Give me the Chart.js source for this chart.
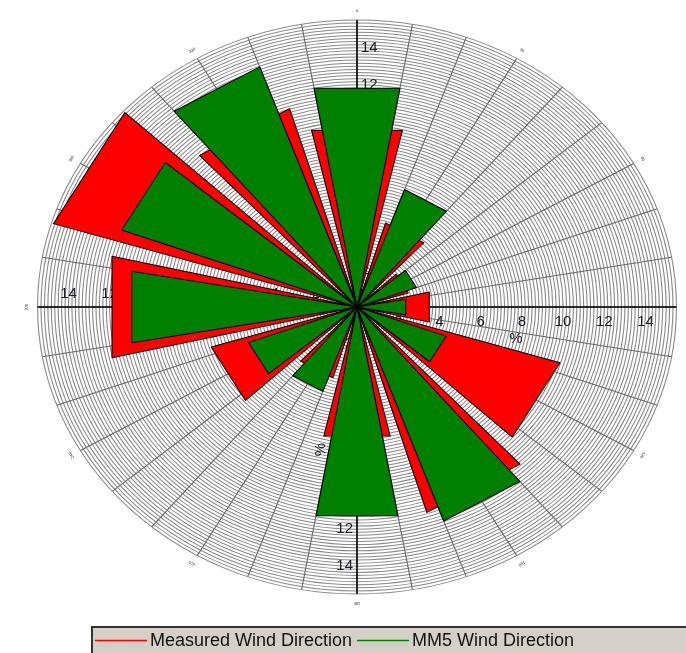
<!DOCTYPE html>
<html>
<head>
<meta charset="utf-8">
<title>Wind Direction</title>
<script src="https://cdn.jsdelivr.net/npm/chart.js@4.4.1/dist/chart.umd.min.js"></script>
<style>
  html, body { margin: 0; padding: 0; background: #fff; }
  #wrap { position: relative; width: 686px; height: 653px; }
</style>
</head>
<body>
<div id="wrap"><canvas id="roseChart" width="686" height="653"></canvas></div>
<script>
// sector directions (degrees clockwise from north) and frequency in %
const directions = [0, 30, 60, 90, 120, 150, 180, 210, 240, 270, 300, 330];
const measured = [9.8, 4.75, 2.6, 3.6, 10.3, 11.6, 7.15, 4.0, 7.4, 12.2, 15.4, 11.2];
const mm5 = [12.0, 6.75, 3.07, 2.4, 4.6, 12.3, 11.45, 4.85, 5.6, 11.1, 12.15, 13.8];
const ringLabels = [2, 4, 6, 8, 10, 12, 14];
const compassLabels = ['0', '30', '60', '90', '120', '150', '180', '210', '240', '270', '300', '330'];
const seriesNames = ['Measured Wind Direction', 'MM5 Wind Direction'];

// one spoke per degree; the rose is drawn as a radar whose sectors are triangles
const spokes = Array.from({ length: 360 }, (_, i) => i);

function sectorData(values, halfWidth) {
    const out = new Array(360).fill(0);
    directions.forEach((dir, k) => {
        for (let a = -halfWidth + 1; a < halfWidth; a++) {
            out[(dir + a + 360) % 360] = null;   // skipped so the outer edge is straight
        }
        out[(dir - halfWidth + 360) % 360] = values[k];
        out[(dir + halfWidth) % 360] = values[k];
    });
    return out;
}

const SX = 320 / 287.5;   // horizontal stretch of the plot
const FONT = '"Liberation Sans", Arial, sans-serif';

const roseDecor = {
    id: 'roseDecor',
    beforeDraw(chart) {
        const s = chart.scales.r;
        const ctx = chart.ctx;
        ctx.save();
        ctx.translate(s.xCenter, 0);
        ctx.scale(SX, 1);
        ctx.translate(-s.xCenter, 0);
    },
    beforeDatasetsDraw(chart) {
        const s = chart.scales.r;
        const ctx = chart.ctx;
        const cx = s.xCenter, cy = s.yCenter;
        const R = s.drawingArea;
        ctx.save();
        ctx.setTransform(1, 0, 0, 1, 0, 0);

        // axis cross
        ctx.strokeStyle = '#000';
        ctx.lineWidth = 1.5;
        ctx.beginPath();
        ctx.moveTo(cx - R * SX, cy); ctx.lineTo(cx + R * SX, cy);
        ctx.moveTo(cx, cy - R); ctx.lineTo(cx, cy + R);
        ctx.stroke();

        // ring values along the four axes
        ctx.fillStyle = '#1c1c2c';
        ctx.font = '15px ' + FONT;
        ctx.textBaseline = 'middle';
        ringLabels.forEach(v => {
            const d = s.getDistanceFromCenterForValue(v);
            ctx.textAlign = 'center';
            ctx.fillText(String(v), cx + d * SX, cy + 15);
            ctx.fillText(String(v), cx - d * SX, cy - 13);
            ctx.textAlign = 'left';
            ctx.fillText(String(v), cx + 4, cy - d);
            ctx.textAlign = 'right';
            ctx.fillText(String(v), cx - 4, cy + d);
        });

        // unit labels
        const unitR = s.getDistanceFromCenterForValue(7.9);
        const a1 = 102.4 * Math.PI / 180;
        ctx.textAlign = 'center';
        ctx.fillText('%', cx + Math.sin(a1) * unitR * SX, cy - Math.cos(a1) * unitR);
        const a2 = 193 * Math.PI / 180;
        ctx.save();
        ctx.translate(cx + Math.sin(a2) * unitR * SX, cy - Math.cos(a2) * unitR);
        ctx.rotate(-Math.PI / 2);
        ctx.fillText('%', 0, 0);
        ctx.restore();

        // compass marks just outside the rim
        const markR = s.getDistanceFromCenterForValue(16);
        ctx.font = '4px ' + FONT;
        ctx.fillStyle = '#223';
        compassLabels.forEach((t, i) => {
            const a = i * 30 * Math.PI / 180;
            ctx.save();
            ctx.translate(cx + Math.sin(a) * markR * SX, cy - Math.cos(a) * markR);
            ctx.rotate(a);
            ctx.fillText(t, 0, 0);
            ctx.restore();
        });
        ctx.restore();
    },
    afterDatasetsDraw(chart) {
        chart.ctx.restore();
    },
    afterDraw(chart) {
        // legend strip along the bottom
        const ctx = chart.ctx;
        ctx.save();
        ctx.fillStyle = '#d4d0c8';
        ctx.fillRect(92, 626, 600, 30);
        ctx.strokeStyle = '#333';
        ctx.lineWidth = 2;
        ctx.strokeRect(92, 627, 600, 30);
        ctx.font = '18px ' + FONT;
        ctx.textBaseline = 'alphabetic';
        ctx.textAlign = 'left';
        let x = 95;
        chart.data.datasets.forEach(ds => {
            ctx.strokeStyle = ds.backgroundColor;
            ctx.lineWidth = 1.5;
            ctx.beginPath();
            ctx.moveTo(x, 640.5);
            ctx.lineTo(x + 52, 640.5);
            ctx.stroke();
            ctx.fillStyle = '#111';
            ctx.fillText(ds.label, x + 55, 646);
            x += 55 + ctx.measureText(ds.label).width + 5;
        });
        ctx.restore();
    }
};

const ctx = document.getElementById('roseChart').getContext('2d');

new Chart(ctx, {
    type: 'radar',
    data: {
        labels: spokes,
        datasets: [{
            label: seriesNames[0],
            data: sectorData(measured, 13),
            backgroundColor: '#ff0000',
            borderColor: '#000',
            borderWidth: 1,
            fill: 'origin',
            spanGaps: true,
            pointRadius: 0,
            order: 2
        }, {
            label: seriesNames[1],
            data: sectorData(mm5, 10),
            backgroundColor: '#008000',
            borderColor: '#000',
            borderWidth: 1,
            fill: 'origin',
            spanGaps: true,
            pointRadius: 0,
            order: 1
        }]
    },
    options: {
        responsive: false,
        animation: false,
        layout: {
            padding: { left: 70, right: 41, top: 20, bottom: 58 }
        },
        elements: {
            line: { tension: 0, borderJoinStyle: 'round' }
        },
        plugins: {
            legend: { display: false },
            tooltip: { enabled: false }
        },
        scales: {
            r: {
                min: 0,
                max: 15.5,
                startAngle: 0,
                ticks: { display: false, stepSize: 1 / 6 },
                grid: { circular: true, color: '#8a8a8a', lineWidth: 1 },
                angleLines: {
                    color: '#6a6a6a',
                    lineWidth: c => (c.index % 10 === 0 ? 1 : 0)
                },
                pointLabels: { display: false }
            }
        }
    },
    plugins: [roseDecor]
});
</script>
</body>
</html>
